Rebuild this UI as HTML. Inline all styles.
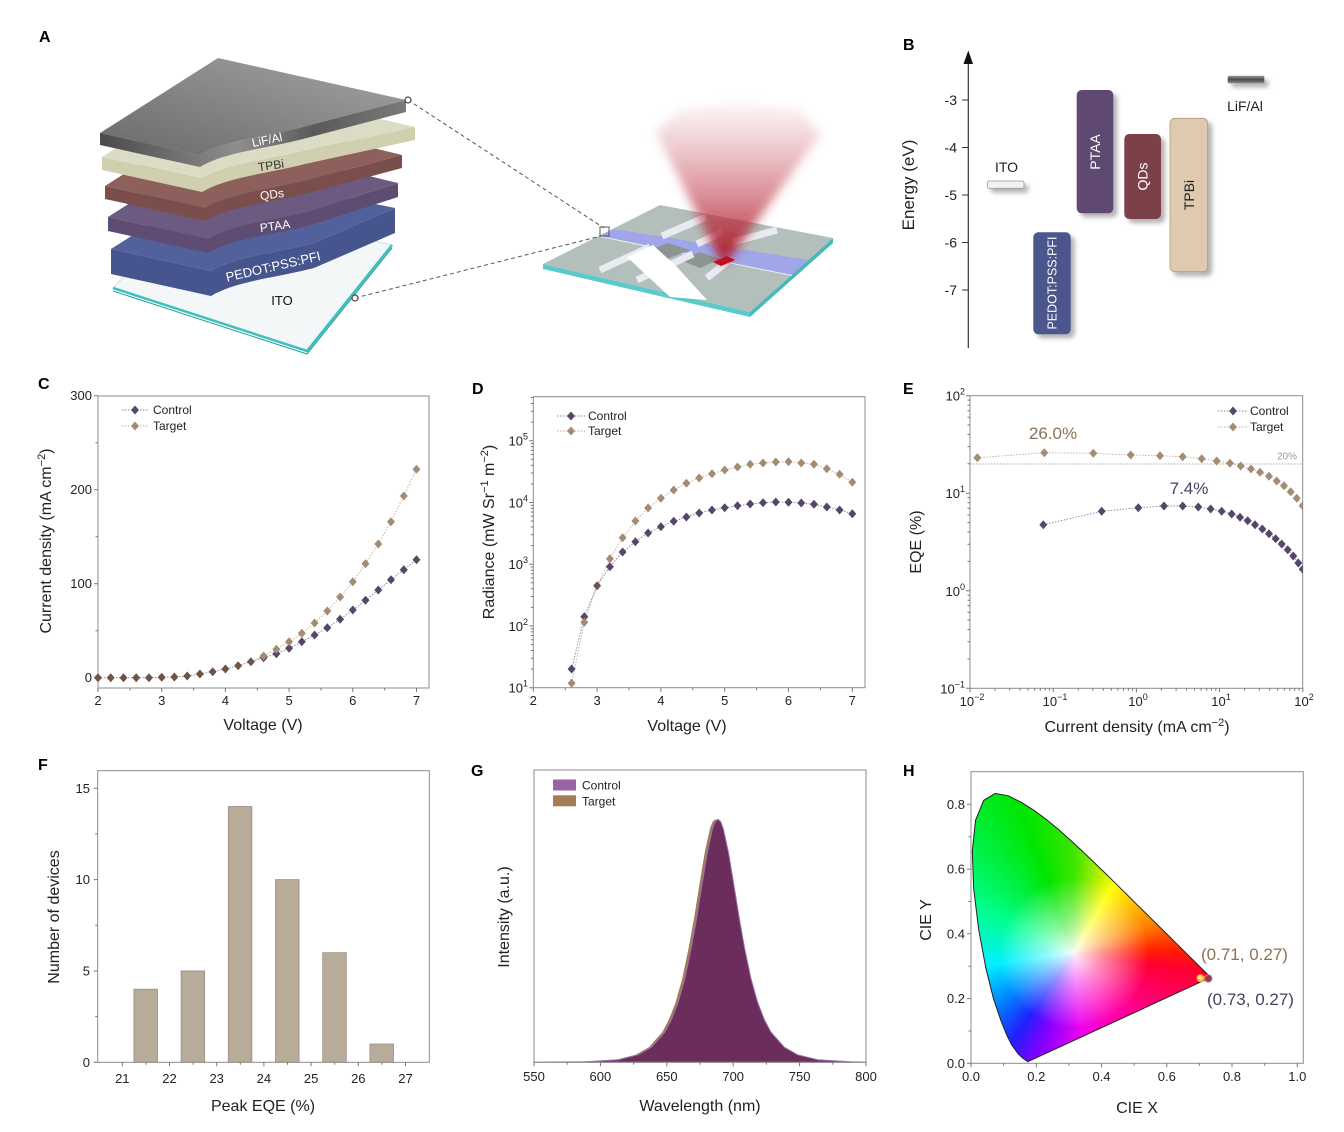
<!DOCTYPE html>
<html>
<head>
<meta charset="utf-8">
<style>
html,body{margin:0;padding:0;background:#fff;}
#wrap{position:relative;width:1344px;height:1132px;overflow:hidden;background:#fff;}
#cie{position:absolute;left:0;top:0;width:1344px;height:1132px;
background:
radial-gradient(circle at 1074px 953px, rgba(255,255,255,0.95) 0px, rgba(255,255,255,0.55) 28px, rgba(255,255,255,0) 75px),
conic-gradient(from 0deg at 1074px 953px, #3ce600 0deg, #c8f000 20deg, #ffff00 30deg, #ffc000 50deg, #ff8000 70deg, #ff2000 88deg, #ff0030 98deg, #ff0070 120deg, #ff00b0 150deg, #f000f0 175deg, #8000ff 200deg, #2020ff 215deg, #0080ff 235deg, #00f0ff 262deg, #00ff90 295deg, #00f040 320deg, #00e600 340deg, #3ce600 360deg);
clip-path: polygon(1027.8px 1061.7px, 1022.1px 1057.6px, 1018px 1053.7px, 1011.5px 1044.6px, 1006.8px 1035.2px, 1000.8px 1020.3px, 993.4px 998.3px, 985.8px 967.8px, 978.7px 929.7px, 973.7px 889px, 972.3px 851.3px, 975.5px 820.4px, 983.7px 800.4px, 995.2px 793.4px, 1008.3px 795.8px, 1021.5px 802.4px, 1033.9px 810.3px, 1045.9px 819.1px, 1057.7px 828.8px, 1069.4px 839.2px, 1081.1px 850px, 1092.7px 861.1px, 1104.4px 872.4px, 1115.9px 883.7px, 1127.2px 894.9px, 1138.2px 905.8px, 1148.8px 916.2px, 1158.7px 926px, 1167.7px 934.9px, 1175.6px 942.7px, 1188.2px 955.2px, 1196.6px 963.5px, 1202px 968.8px, 1205.6px 972.4px, 1210.7px 977.4px);}
svg{position:absolute;left:0;top:0;}
text{font-family:"Liberation Sans",Arial,sans-serif;fill:#222;}
.tk{font-size:13px;}
.at{font-size:16px;}
.lg{font-size:12px;}
.pl{font-size:16px;font-weight:bold;fill:#000;}
.fr{fill:none;stroke:#8c8c8c;stroke-width:1;}
.ti{fill:none;stroke:#777;stroke-width:1;}
</style>
</head>
<body>
<div id="wrap">
<div id="cie"></div>
<svg width="1344" height="1132" viewBox="0 0 1344 1132" xmlns="http://www.w3.org/2000/svg">
<defs>
<path id="dm" d="M0,-4.5 L4,0 L0,4.5 L-4,0 Z"/>
<filter id="sh" x="-40%" y="-20%" width="180%" height="150%"><feDropShadow dx="4" dy="4" stdDeviation="2.5" flood-color="#000" flood-opacity="0.3"/></filter>
<filter id="blur" x="-50%" y="-50%" width="200%" height="200%"><feGaussianBlur stdDeviation="5"/></filter>
<linearGradient id="gTop" x1="0" y1="1" x2="1" y2="0"><stop offset="0" stop-color="#6a6a6a"/><stop offset="1" stop-color="#a4a4a4"/></linearGradient>
<linearGradient id="gAlF" x1="0" y1="0" x2="1" y2="0"><stop offset="0" stop-color="#4a4a4a"/><stop offset="0.45" stop-color="#8e8e8e"/><stop offset="0.7" stop-color="#5a5a5a"/><stop offset="1" stop-color="#7a7a7a"/></linearGradient>
<linearGradient id="gLiF" x1="0" y1="0" x2="0" y2="1"><stop offset="0" stop-color="#9a9a9a"/><stop offset="0.5" stop-color="#4a4a4a"/><stop offset="1" stop-color="#8a8a8a"/></linearGradient>
<linearGradient id="cone" x1="0" y1="1" x2="0" y2="0"><stop offset="0" stop-color="#b01020" stop-opacity="0.95"/><stop offset="0.45" stop-color="#c04050" stop-opacity="0.55"/><stop offset="1" stop-color="#d06070" stop-opacity="0.05"/></linearGradient>
<radialGradient id="gDot" cx="0.45" cy="0.45" r="0.6"><stop offset="0" stop-color="#fffbd0"/><stop offset="0.5" stop-color="#ffd040"/><stop offset="1" stop-color="#ff8a00"/></radialGradient>
<clipPath id="clipE"><rect x="970" y="395.7" width="332.7" height="292.6"/></clipPath>
</defs>

<!-- ===================== PANEL A ===================== -->
<text class="pl" x="39" y="42">A</text>
<!-- ITO plate -->
<polygon points="113,288 200,200 392,245 307,351" fill="#f3f7f7" stroke="#d5dddd" stroke-width="1"/>
<polyline points="113,288 307,351 392,245" fill="none" stroke="#3fc0c0" stroke-width="2.5"/>
<polyline points="113,291 307,354 392,248" fill="none" stroke="#2a9a9a" stroke-width="1"/>
<!-- PEDOT -->
<path d="M111,249 L229,174 L395,208 L314,243 C275,253 236,256 211,271 Z" fill="#52609c"/>
<path d="M111,249 L211,271 C236,256 275,253 314,243 L395,208 L395,233 L314,268 C275,278 236,281 211,296 L111,274 Z" fill="#46558e"/>
<!-- PTAA -->
<path d="M108,217 L226,142 L398,183 L311,211 C272,221 233,224 208,239 Z" fill="#6c5a80"/>
<path d="M108,217 L208,239 C233,224 272,221 311,211 L398,183 L398,197 L311,225 C272,235 233,238 208,253 L108,231 Z" fill="#5e4c72"/>
<!-- QDs -->
<path d="M105,186 L223,111 L402,155 L308,180 C269,190 230,193 205,208 Z" fill="#8e605c"/>
<path d="M105,186 L205,208 C230,193 269,190 308,180 L402,155 L402,168 L308,193 C269,203 230,206 205,221 L105,199 Z" fill="#7a4e4c"/>
<!-- TPBi -->
<path d="M102,157 L220,82 L415,127 L305,151 C266,161 227,164 202,179 Z" fill="#dcdcc4"/>
<path d="M102,157 L202,179 C227,164 266,161 305,151 L415,127 L415,140 L305,164 C266,174 227,177 202,192 L102,170 Z" fill="#d0d0b0"/>
<!-- LiF/Al -->
<path d="M100,133 L218,58 L406,100 L303,127 C264,137 225,140 200,155 Z" fill="url(#gTop)"/>
<path d="M100,133 L200,155 C225,140 264,137 303,127 L406,100 L406,112 L303,139 C264,149 225,152 200,167 L100,145 Z" fill="url(#gAlF)"/>
<!-- labels -->
<text x="267" y="144" font-size="12" text-anchor="middle" transform="rotate(-12 267 140)" style="fill:#fff">LiF/Al</text>
<text x="271" y="169.5" font-size="12" text-anchor="middle" transform="rotate(-8 271 165.5)" style="fill:#333">TPBi</text>
<text x="272" y="198.5" font-size="12" text-anchor="middle" transform="rotate(-8 272 194.5)" style="fill:#fff">QDs</text>
<text x="275" y="230" font-size="12" text-anchor="middle" transform="rotate(-8 275 226)" style="fill:#fff">PTAA</text>
<text x="273" y="271" font-size="13" text-anchor="middle" transform="rotate(-13 273 266)" style="fill:#fff">PEDOT:PSS:PFI</text>
<text x="282" y="305" font-size="13" text-anchor="middle" style="fill:#111">ITO</text>

<!-- device -->
<polygon points="543,264 750,312 750,317 543,269" fill="#5ccaca"/>
<polygon points="750,312 833,238 833,243 750,317" fill="#48b8b8"/>
<polygon points="543,264 660,205 833,238 750,312" fill="#b3bfbb"/>
<polygon points="600,236 614,229 808,260 792,275" fill="#a0a6e8"/>
<line x1="600" y1="236.5" x2="792" y2="275.5" stroke="#e8ecf8" stroke-width="1"/>
<polygon points="645,252 668,243 690,250 667,259" fill="#8d9593"/>
<polygon points="680,260 700,252 720,259 700,268" fill="#8d9593"/>
<g stroke="#eceef6" stroke-width="7" opacity="0.95">
<line x1="662" y1="236" x2="706" y2="217"/>
<line x1="697" y1="244" x2="722" y2="232"/>
<line x1="733" y1="242" x2="777" y2="230"/>
<line x1="600" y1="270" x2="650" y2="247"/>
<line x1="637" y1="280" x2="693" y2="254"/>
<line x1="707" y1="278" x2="727" y2="262"/>
</g>
<polygon points="627,257 653,245 677,267 707,300 670,297" fill="#ffffff"/>
<polygon points="713,262 727,256 735,260 721,266" fill="#c4101c"/>
<polygon points="721,262 727,262 820,135 800,110 740,102 680,110 656,132" fill="url(#cone)" filter="url(#blur)"/>
<rect x="600" y="227" width="9" height="9" fill="none" stroke="#555" stroke-width="1"/>
<line x1="408" y1="100" x2="604" y2="228" stroke="#555" stroke-width="1" stroke-dasharray="4,3"/>
<line x1="355" y1="298" x2="601" y2="236" stroke="#555" stroke-width="1" stroke-dasharray="4,3"/>
<circle cx="408" cy="100" r="3" fill="#fff" stroke="#444" stroke-width="1.2"/>
<circle cx="355" cy="298" r="3" fill="#fff" stroke="#444" stroke-width="1.2"/>

<!-- ===================== PANEL B ===================== -->
<text class="pl" x="903" y="50">B</text>
<line x1="968.3" y1="348" x2="968.3" y2="62" stroke="#333" stroke-width="1.2"/>
<polygon points="963.5,64 973,64 968.3,50.5" fill="#111"/>
<path d="M962,100h6.3 M962,147.5h6.3 M962,195h6.3 M962,242.5h6.3 M962,290h6.3" stroke="#333" stroke-width="1"/>
<g font-size="14">
<text x="957" y="105" text-anchor="end" font-size="14">-3</text>
<text x="957" y="152.5" text-anchor="end" font-size="14">-4</text>
<text x="957" y="200" text-anchor="end" font-size="14">-5</text>
<text x="957" y="247.5" text-anchor="end" font-size="14">-6</text>
<text x="957" y="295" text-anchor="end" font-size="14">-7</text>
</g>
<text transform="translate(914,185) rotate(-90)" text-anchor="middle" font-size="17">Energy (eV)</text>
<g filter="url(#sh)">
<rect x="987.3" y="181" width="36.7" height="7.3" rx="2" fill="#f0f2f4" stroke="#999" stroke-width="0.8"/>
<rect x="1033.3" y="232.3" width="37.4" height="102" rx="5" fill="#4b578d"/>
<rect x="1076.7" y="90" width="36.6" height="123.3" rx="5" fill="#5f4a70"/>
<rect x="1124.3" y="134" width="36.7" height="85" rx="5" fill="#7b3f48"/>
<rect x="1170" y="118.3" width="37.7" height="153.4" rx="5" fill="#dfcab0" stroke="#b09880" stroke-width="0.8"/>
<rect x="1227.7" y="75.7" width="36.6" height="7.6" rx="1.5" fill="url(#gLiF)"/>
</g>
<text x="1006.5" y="172" text-anchor="middle" font-size="14">ITO</text>
<text x="1245" y="111" text-anchor="middle" font-size="14">LiF/Al</text>
<text transform="translate(1056.5,283) rotate(-90)" text-anchor="middle" font-size="12.5" style="fill:#fff">PEDOT:PSS:PFI</text>
<text transform="translate(1100,152) rotate(-90)" text-anchor="middle" font-size="14" style="fill:#fff">PTAA</text>
<text transform="translate(1147.5,176.5) rotate(-90)" text-anchor="middle" font-size="14" style="fill:#fff">QDs</text>
<text transform="translate(1194,195) rotate(-90)" text-anchor="middle" font-size="14" style="fill:#222">TPBi</text>

<!-- ===================== PANEL C ===================== -->
<text class="pl" x="38" y="389">C</text>
<rect class="fr" x="98" y="396" width="331" height="292"/>
<path class="ti" d="M98,688v4 M161.7,688v4 M225.4,688v4 M289.1,688v4 M352.8,688v4 M416.5,688v4 M129.9,688v2.5 M193.6,688v2.5 M257.3,688v2.5 M321,688v2.5 M384.7,688v2.5 M98,677.7h-4 M98,583.7h-4 M98,489.7h-4 M98,395.7h-4 M98,630.7h-2.5 M98,536.7h-2.5 M98,442.7h-2.5"/>
<g class="tk" text-anchor="middle">
<text class="tk" x="98" y="705">2</text><text class="tk" x="161.7" y="705">3</text><text class="tk" x="225.4" y="705">4</text><text class="tk" x="289.1" y="705">5</text><text class="tk" x="352.8" y="705">6</text><text class="tk" x="416.5" y="705">7</text>
</g>
<g text-anchor="end">
<text class="tk" x="92" y="682.2">0</text><text class="tk" x="92" y="588.2">100</text><text class="tk" x="92" y="494.2">200</text><text class="tk" x="92" y="400.2">300</text>
</g>
<text class="at" x="263" y="730" text-anchor="middle">Voltage (V)</text>
<text class="at" transform="translate(51,541) rotate(-90)" text-anchor="middle">Current density (mA cm<tspan dy="-6" font-size="11">−2</tspan><tspan dy="6">)</tspan></text>
<polyline fill="none" stroke="#8a7c9c" stroke-width="0.9" stroke-dasharray="1.5,1.5" points="98,677.7 110.7,677.7 123.5,677.7 136.2,677.7 149,677.7 161.7,677.2 174.4,677 187.2,676 199.9,674 212.7,671.7 225.4,669 238.1,665.7 250.9,661.7 263.6,657.7 276.4,653.7 289.1,648.3 301.8,641.7 314.6,635 327.3,627.7 340.1,619.3 352.8,610 365.5,600.3 378.3,590 391,579.7 403.8,569.7 416.5,559.7"/>
<polyline fill="none" stroke="#c4ad96" stroke-width="0.9" stroke-dasharray="1.5,1.5" points="250.9,661.7 263.6,656 276.4,649.3 289.1,641.7 301.8,633.3 314.6,623 327.3,611 340.1,597 352.8,581.7 365.5,563.7 378.3,544 391,521.7 403.8,496 416.5,469.3"/>
<g fill="#56476a">
<use href="#dm" x="263.6" y="657.7"/><use href="#dm" x="276.4" y="653.7"/><use href="#dm" x="289.1" y="648.3"/><use href="#dm" x="301.8" y="641.7"/><use href="#dm" x="314.6" y="635"/><use href="#dm" x="327.3" y="627.7"/><use href="#dm" x="340.1" y="619.3"/><use href="#dm" x="352.8" y="610"/><use href="#dm" x="365.5" y="600.3"/><use href="#dm" x="378.3" y="590"/><use href="#dm" x="391" y="579.7"/><use href="#dm" x="403.8" y="569.7"/><use href="#dm" x="416.5" y="559.7"/>
</g>
<g fill="#a48c72">
<use href="#dm" x="263.6" y="656"/><use href="#dm" x="276.4" y="649.3"/><use href="#dm" x="289.1" y="641.7"/><use href="#dm" x="301.8" y="633.3"/><use href="#dm" x="314.6" y="623"/><use href="#dm" x="327.3" y="611"/><use href="#dm" x="340.1" y="597"/><use href="#dm" x="352.8" y="581.7"/><use href="#dm" x="365.5" y="563.7"/><use href="#dm" x="378.3" y="544"/><use href="#dm" x="391" y="521.7"/><use href="#dm" x="403.8" y="496"/><use href="#dm" x="416.5" y="469.3"/>
</g>
<g fill="#6e5347">
<use href="#dm" x="98" y="677.7"/><use href="#dm" x="110.7" y="677.7"/><use href="#dm" x="123.5" y="677.7"/><use href="#dm" x="136.2" y="677.7"/><use href="#dm" x="149" y="677.7"/><use href="#dm" x="161.7" y="677.2"/><use href="#dm" x="174.4" y="677"/><use href="#dm" x="187.2" y="676"/><use href="#dm" x="199.9" y="674"/><use href="#dm" x="212.7" y="671.7"/><use href="#dm" x="225.4" y="669"/><use href="#dm" x="238.1" y="665.7"/><use href="#dm" x="250.9" y="661.7"/>
</g>
<line x1="122" y1="410" x2="148" y2="410" stroke="#8a7c9c" stroke-width="0.9" stroke-dasharray="1.5,1.5"/>
<use href="#dm" x="135" y="410" fill="#56476a"/>
<text class="lg" x="153" y="414">Control</text>
<line x1="122" y1="426" x2="148" y2="426" stroke="#c4ad96" stroke-width="0.9" stroke-dasharray="1.5,1.5"/>
<use href="#dm" x="135" y="426" fill="#a48c72"/>
<text class="lg" x="153" y="430">Target</text>

<!-- ===================== PANEL D ===================== -->
<text class="pl" x="472" y="394">D</text>
<rect class="fr" x="533.3" y="396.7" width="331.7" height="291"/>
<path class="ti" d="M533.3,687.7v4 M597.1,687.7v4 M660.9,687.7v4 M724.7,687.7v4 M788.5,687.7v4 M852.3,687.7v4 M565.2,687.7v2.5 M629,687.7v2.5 M692.8,687.7v2.5 M756.6,687.7v2.5 M820.4,687.7v2.5 M533.3,687.7h-4 M533.3,625.95h-4 M533.3,564.2h-4 M533.3,502.45h-4 M533.3,440.7h-4 M533.3,669.1h-2.5 M533.3,658.2h-2.5 M533.3,650.5h-2.5 M533.3,644.5h-2.5 M533.3,639.7h-2.5 M533.3,635.5h-2.5 M533.3,631.9h-2.5 M533.3,628.8h-2.5 M533.3,607.35h-2.5 M533.3,596.45h-2.5 M533.3,588.75h-2.5 M533.3,582.75h-2.5 M533.3,577.95h-2.5 M533.3,573.75h-2.5 M533.3,570.15h-2.5 M533.3,567.05h-2.5 M533.3,545.6h-2.5 M533.3,534.7h-2.5 M533.3,527h-2.5 M533.3,521h-2.5 M533.3,516.2h-2.5 M533.3,512h-2.5 M533.3,508.4h-2.5 M533.3,505.3h-2.5 M533.3,483.85h-2.5 M533.3,472.95h-2.5 M533.3,465.25h-2.5 M533.3,459.25h-2.5 M533.3,454.45h-2.5 M533.3,450.25h-2.5 M533.3,446.65h-2.5 M533.3,443.55h-2.5 M533.3,422.1h-2.5 M533.3,411.2h-2.5 M533.3,403.5h-2.5 M533.3,397.5h-2.5"/>
<g text-anchor="middle">
<text class="tk" x="533.3" y="705">2</text><text class="tk" x="597.1" y="705">3</text><text class="tk" x="660.9" y="705">4</text><text class="tk" x="724.7" y="705">5</text><text class="tk" x="788.5" y="705">6</text><text class="tk" x="852.3" y="705">7</text>
</g>
<g text-anchor="end">
<text class="tk" x="528" y="692.7">10<tspan dy="-6" font-size="9">1</tspan></text>
<text class="tk" x="528" y="630.9">10<tspan dy="-6" font-size="9">2</tspan></text>
<text class="tk" x="528" y="569.2">10<tspan dy="-6" font-size="9">3</tspan></text>
<text class="tk" x="528" y="507.4">10<tspan dy="-6" font-size="9">4</tspan></text>
<text class="tk" x="528" y="445.7">10<tspan dy="-6" font-size="9">5</tspan></text>
</g>
<text class="at" x="687" y="731" text-anchor="middle">Voltage (V)</text>
<text class="at" transform="translate(494,532) rotate(-90)" text-anchor="middle">Radiance (mW Sr<tspan dy="-6" font-size="11">−1</tspan><tspan dy="6"> m</tspan><tspan dy="-6" font-size="11">−2</tspan><tspan dy="6">)</tspan></text>
<polyline fill="none" stroke="#8a7c9c" stroke-width="0.9" stroke-dasharray="1.5,1.5" points="571.6,669 584.3,616.7 597.1,585.7 609.9,566.7 622.6,552 635.4,541.7 648.1,533 660.9,526.7 673.7,521.3 686.4,517 699.2,513 712,510 724.7,507.7 737.5,505.7 750.2,504 763,502.7 775.8,502 788.5,502.3 801.3,503 814,504.3 826.8,507 839.6,510 852.3,513.7"/>
<polyline fill="none" stroke="#c4ad96" stroke-width="0.9" stroke-dasharray="1.5,1.5" points="571.6,683.3 584.3,622.3 597.1,585.7 609.9,558.7 622.6,537.7 635.4,521 648.1,508 660.9,498.3 673.7,490 686.4,483.3 699.2,478 712,473.7 724.7,470 737.5,467 750.2,464.3 763,463 775.8,462 788.5,461.7 801.3,463 814,464.3 826.8,468.7 839.6,474.3 852.3,482.3"/>
<g fill="#56476a">
<use href="#dm" x="571.6" y="669"/><use href="#dm" x="584.3" y="616.7"/><use href="#dm" x="609.9" y="566.7"/><use href="#dm" x="622.6" y="552"/><use href="#dm" x="635.4" y="541.7"/><use href="#dm" x="648.1" y="533"/><use href="#dm" x="660.9" y="526.7"/><use href="#dm" x="673.7" y="521.3"/><use href="#dm" x="686.4" y="517"/><use href="#dm" x="699.2" y="513"/><use href="#dm" x="712" y="510"/><use href="#dm" x="724.7" y="507.7"/><use href="#dm" x="737.5" y="505.7"/><use href="#dm" x="750.2" y="504"/><use href="#dm" x="763" y="502.7"/><use href="#dm" x="775.8" y="502"/><use href="#dm" x="788.5" y="502.3"/><use href="#dm" x="801.3" y="503"/><use href="#dm" x="814" y="504.3"/><use href="#dm" x="826.8" y="507"/><use href="#dm" x="839.6" y="510"/><use href="#dm" x="852.3" y="513.7"/>
</g>
<g fill="#a48c72">
<use href="#dm" x="571.6" y="683.3"/><use href="#dm" x="584.3" y="622.3"/><use href="#dm" x="609.9" y="558.7"/><use href="#dm" x="622.6" y="537.7"/><use href="#dm" x="635.4" y="521"/><use href="#dm" x="648.1" y="508"/><use href="#dm" x="660.9" y="498.3"/><use href="#dm" x="673.7" y="490"/><use href="#dm" x="686.4" y="483.3"/><use href="#dm" x="699.2" y="478"/><use href="#dm" x="712" y="473.7"/><use href="#dm" x="724.7" y="470"/><use href="#dm" x="737.5" y="467"/><use href="#dm" x="750.2" y="464.3"/><use href="#dm" x="763" y="463"/><use href="#dm" x="775.8" y="462"/><use href="#dm" x="788.5" y="461.7"/><use href="#dm" x="801.3" y="463"/><use href="#dm" x="814" y="464.3"/><use href="#dm" x="826.8" y="468.7"/><use href="#dm" x="839.6" y="474.3"/><use href="#dm" x="852.3" y="482.3"/>
</g>
<use href="#dm" x="597.1" y="585.7" fill="#6e5347"/>
<line x1="557" y1="416" x2="585" y2="416" stroke="#8a7c9c" stroke-width="0.9" stroke-dasharray="1.5,1.5"/>
<use href="#dm" x="571" y="416" fill="#56476a"/>
<text class="lg" x="588" y="420">Control</text>
<line x1="557" y1="431" x2="585" y2="431" stroke="#c4ad96" stroke-width="0.9" stroke-dasharray="1.5,1.5"/>
<use href="#dm" x="571" y="431" fill="#a48c72"/>
<text class="lg" x="588" y="435">Target</text>

<!-- ===================== PANEL E ===================== -->
<text class="pl" x="903" y="394">E</text>
<rect class="fr" x="970" y="395.7" width="332.7" height="292.6"/>
<path class="ti" d="M970,688.3v4 M1053.2,688.3v4 M1136.4,688.3v4 M1219.6,688.3v4 M1302.8,688.3v4 M995,688.3v2.5 M1009.7,688.3v2.5 M1020.1,688.3v2.5 M1028.1,688.3v2.5 M1034.7,688.3v2.5 M1040.3,688.3v2.5 M1045.1,688.3v2.5 M1049.4,688.3v2.5 M1078.2,688.3v2.5 M1092.9,688.3v2.5 M1103.3,688.3v2.5 M1111.3,688.3v2.5 M1117.9,688.3v2.5 M1123.5,688.3v2.5 M1128.3,688.3v2.5 M1132.6,688.3v2.5 M1161.4,688.3v2.5 M1176.1,688.3v2.5 M1186.5,688.3v2.5 M1194.5,688.3v2.5 M1201.1,688.3v2.5 M1206.7,688.3v2.5 M1211.5,688.3v2.5 M1215.8,688.3v2.5 M1244.6,688.3v2.5 M1259.3,688.3v2.5 M1269.7,688.3v2.5 M1277.7,688.3v2.5 M1284.3,688.3v2.5 M1289.9,688.3v2.5 M1294.7,688.3v2.5 M1299,688.3v2.5 M970,395.7h-4 M970,493.2h-4 M970,590.8h-4 M970,688.3h-4 M970,658.9h-2.5 M970,641.7h-2.5 M970,629.5h-2.5 M970,620.1h-2.5 M970,612.4h-2.5 M970,605.8h-2.5 M970,600.2h-2.5 M970,595.2h-2.5 M970,561.4h-2.5 M970,544.2h-2.5 M970,532h-2.5 M970,522.6h-2.5 M970,514.9h-2.5 M970,508.3h-2.5 M970,502.7h-2.5 M970,497.7h-2.5 M970,463.8h-2.5 M970,446.6h-2.5 M970,434.4h-2.5 M970,425h-2.5 M970,417.3h-2.5 M970,410.7h-2.5 M970,405.1h-2.5 M970,400.1h-2.5"/>
<g text-anchor="middle">
<text class="tk" x="972" y="706">10<tspan dy="-6" font-size="9">−2</tspan></text>
<text class="tk" x="1055" y="706">10<tspan dy="-6" font-size="9">−1</tspan></text>
<text class="tk" x="1138" y="706">10<tspan dy="-6" font-size="9">0</tspan></text>
<text class="tk" x="1221" y="706">10<tspan dy="-6" font-size="9">1</tspan></text>
<text class="tk" x="1304" y="706">10<tspan dy="-6" font-size="9">2</tspan></text>
</g>
<g text-anchor="end">
<text class="tk" x="965" y="400.7">10<tspan dy="-6" font-size="9">2</tspan></text>
<text class="tk" x="965" y="498.2">10<tspan dy="-6" font-size="9">1</tspan></text>
<text class="tk" x="965" y="595.8">10<tspan dy="-6" font-size="9">0</tspan></text>
<text class="tk" x="965" y="693.3">10<tspan dy="-6" font-size="9">−1</tspan></text>
</g>
<text class="at" x="1137" y="732" text-anchor="middle">Current density (mA cm<tspan dy="-6" font-size="11">−2</tspan><tspan dy="6">)</tspan></text>
<text class="at" transform="translate(921,542) rotate(-90)" text-anchor="middle">EQE (%)</text>
<line x1="970" y1="464" x2="1302.7" y2="464" stroke="#aaa" stroke-width="0.9" stroke-dasharray="1.5,1.5"/>
<text x="1287" y="459.5" text-anchor="middle" font-size="10" style="fill:#999">20%</text>
<text x="1053" y="439" text-anchor="middle" font-size="17" style="fill:#8b7355">26.0%</text>
<text x="1189" y="494" text-anchor="middle" font-size="17" style="fill:#4a3f5c">7.4%</text>
<g clip-path="url(#clipE)">
<polyline fill="none" stroke="#c4ad96" stroke-width="0.9" stroke-dasharray="1.5,1.5" points="977.3,457.7 1044.3,452.7 1093.3,453.3 1130.7,455 1160,455.7 1182.7,456.7 1201.7,458.7 1216.7,461 1230,463.3 1240.7,466 1251,469 1260,472.3 1269,476.3 1276.7,481 1284,485.7 1290.7,491.7 1296.7,498.3 1302.7,505.7"/>
<polyline fill="none" stroke="#8a7c9c" stroke-width="0.9" stroke-dasharray="1.5,1.5" points="1043.3,524.7 1101.7,511.3 1138.3,507.7 1164,506 1182.7,506 1198.3,507 1210.7,509 1221.7,511.3 1231.7,514 1240,517.3 1247.7,520.7 1255,524.7 1262.3,529 1269,533.7 1275.7,538.7 1281.7,544 1287.7,549.7 1293.3,556 1298.3,563 1302.7,569.3"/>
<g fill="#a48c72">
<use href="#dm" x="977.3" y="457.7"/><use href="#dm" x="1044.3" y="452.7"/><use href="#dm" x="1093.3" y="453.3"/><use href="#dm" x="1130.7" y="455"/><use href="#dm" x="1160" y="455.7"/><use href="#dm" x="1182.7" y="456.7"/><use href="#dm" x="1201.7" y="458.7"/><use href="#dm" x="1216.7" y="461"/><use href="#dm" x="1230" y="463.3"/><use href="#dm" x="1240.7" y="466"/><use href="#dm" x="1251" y="469"/><use href="#dm" x="1260" y="472.3"/><use href="#dm" x="1269" y="476.3"/><use href="#dm" x="1276.7" y="481"/><use href="#dm" x="1284" y="485.7"/><use href="#dm" x="1290.7" y="491.7"/><use href="#dm" x="1296.7" y="498.3"/><use href="#dm" x="1302.7" y="505.7"/>
</g>
<g fill="#56476a">
<use href="#dm" x="1043.3" y="524.7"/><use href="#dm" x="1101.7" y="511.3"/><use href="#dm" x="1138.3" y="507.7"/><use href="#dm" x="1164" y="506"/><use href="#dm" x="1182.7" y="506"/><use href="#dm" x="1198.3" y="507"/><use href="#dm" x="1210.7" y="509"/><use href="#dm" x="1221.7" y="511.3"/><use href="#dm" x="1231.7" y="514"/><use href="#dm" x="1240" y="517.3"/><use href="#dm" x="1247.7" y="520.7"/><use href="#dm" x="1255" y="524.7"/><use href="#dm" x="1262.3" y="529"/><use href="#dm" x="1269" y="533.7"/><use href="#dm" x="1275.7" y="538.7"/><use href="#dm" x="1281.7" y="544"/><use href="#dm" x="1287.7" y="549.7"/><use href="#dm" x="1293.3" y="556"/><use href="#dm" x="1298.3" y="563"/><use href="#dm" x="1302.7" y="569.3"/>
</g>
</g>
<line x1="1218" y1="411" x2="1247" y2="411" stroke="#8a7c9c" stroke-width="0.9" stroke-dasharray="1.5,1.5"/>
<use href="#dm" x="1233" y="411" fill="#56476a"/>
<text class="lg" x="1250" y="415">Control</text>
<line x1="1218" y1="427" x2="1247" y2="427" stroke="#c4ad96" stroke-width="0.9" stroke-dasharray="1.5,1.5"/>
<use href="#dm" x="1233" y="427" fill="#a48c72"/>
<text class="lg" x="1250" y="431">Target</text>

<!-- ===================== PANEL F ===================== -->
<text class="pl" x="38" y="770">F</text>
<g fill="#b9ab9a" stroke="#9a8f84" stroke-width="0.8">
<rect x="133.9" y="989.2" width="23.6" height="73.1"/>
<rect x="181.1" y="970.9" width="23.6" height="91.4"/>
<rect x="228.3" y="806.5" width="23.6" height="255.8"/>
<rect x="275.5" y="879.6" width="23.6" height="182.7"/>
<rect x="322.7" y="952.7" width="23.6" height="109.6"/>
<rect x="369.9" y="1044" width="23.6" height="18.3"/>
</g>
<rect class="fr" x="97.7" y="770.7" width="331.6" height="291.6"/>
<path class="ti" d="M122.3,1062.3v4 M169.5,1062.3v4 M216.7,1062.3v4 M263.9,1062.3v4 M311.1,1062.3v4 M358.3,1062.3v4 M405.5,1062.3v4 M145.9,1062.3v2.5 M193.1,1062.3v2.5 M240.3,1062.3v2.5 M287.5,1062.3v2.5 M334.7,1062.3v2.5 M381.9,1062.3v2.5 M97.7,1062.3h-4 M97.7,970.95h-4 M97.7,879.6h-4 M97.7,788.25h-4 M97.7,1016.6h-2.5 M97.7,925.3h-2.5 M97.7,833.9h-2.5"/>
<g text-anchor="middle">
<text class="tk" x="122.3" y="1083">21</text><text class="tk" x="169.5" y="1083">22</text><text class="tk" x="216.7" y="1083">23</text><text class="tk" x="263.9" y="1083">24</text><text class="tk" x="311.1" y="1083">25</text><text class="tk" x="358.3" y="1083">26</text><text class="tk" x="405.5" y="1083">27</text>
</g>
<g text-anchor="end">
<text class="tk" x="90" y="1066.8">0</text><text class="tk" x="90" y="975.5">5</text><text class="tk" x="90" y="884.1">10</text><text class="tk" x="90" y="792.8">15</text>
</g>
<text class="at" x="263" y="1111" text-anchor="middle">Peak EQE (%)</text>
<text class="at" transform="translate(59,917) rotate(-90)" text-anchor="middle">Number of devices</text>

<!-- ===================== PANEL G ===================== -->
<text class="pl" x="471" y="776">G</text>
<polygon fill="#a17c52" points="534,1062.3 582.5,1061.8 615.7,1059.7 635.6,1054.8 648.9,1047.2 662.2,1032.2 668.8,1019.8 675.5,1002.6 682.1,979.1 688.7,947.8 694.1,917.9 699.4,884.6 704.7,852.6 710,828.4 712.7,821.6 715.3,819.3 717.9,821.6 720.6,828.4 725.9,852.6 731.2,884.6 736.6,917.9 741.9,947.8 748.5,979.1 755.1,1002.6 761.8,1019.8 768.4,1032.2 781.7,1047.2 795,1054.8 814.9,1059.7 848.1,1061.8 866,1062.3"/>
<polygon fill="#6b2d5b" stroke="#9a70b0" stroke-width="1" points="534,1062.3 585.1,1061.8 618.3,1059.7 638.2,1054.8 651.5,1047.2 664.8,1032.2 671.4,1019.8 678.1,1002.6 684.7,979.1 691.3,947.8 696.7,917.9 702,884.6 707.3,852.6 712.6,828.4 715.2,821.6 717.9,819.3 720.6,821.6 723.2,828.4 728.5,852.6 733.8,884.6 739.2,917.9 744.5,947.8 751.1,979.1 757.7,1002.6 764.4,1019.8 771,1032.2 784.3,1047.2 797.6,1054.8 817.5,1059.7 850.7,1061.8 866,1062.3"/>
<rect class="fr" x="534" y="770" width="332" height="292.3"/>
<path class="ti" d="M534,1062.3v4 M600.4,1062.3v4 M666.8,1062.3v4 M733.2,1062.3v4 M799.6,1062.3v4 M866,1062.3v4 M567.2,1062.3v2.5 M633.6,1062.3v2.5 M700,1062.3v2.5 M766.4,1062.3v2.5 M832.8,1062.3v2.5"/>
<g text-anchor="middle">
<text class="tk" x="534" y="1081">550</text><text class="tk" x="600.4" y="1081">600</text><text class="tk" x="666.8" y="1081">650</text><text class="tk" x="733.2" y="1081">700</text><text class="tk" x="799.6" y="1081">750</text><text class="tk" x="866" y="1081">800</text>
</g>
<text class="at" x="700" y="1111" text-anchor="middle">Wavelength (nm)</text>
<text class="at" transform="translate(509,917) rotate(-90)" text-anchor="middle">Intensity (a.u.)</text>
<rect x="553" y="779.5" width="23" height="11" fill="#9b63a3"/>
<text class="lg" x="582" y="789.5">Control</text>
<rect x="553" y="795.3" width="23" height="11" fill="#a47c55"/>
<text class="lg" x="582" y="805.3">Target</text>

<!-- ===================== PANEL H ===================== -->
<text class="pl" x="903" y="776">H</text>
<polygon fill="none" stroke="#222" stroke-width="1" points="1027.8,1061.7 1022.1,1057.6 1018,1053.7 1011.5,1044.6 1006.8,1035.2 1000.8,1020.3 993.4,998.3 985.8,967.8 978.7,929.7 973.7,889 972.3,851.3 975.5,820.4 983.7,800.4 995.2,793.4 1008.3,795.8 1021.5,802.4 1033.9,810.3 1045.9,819.1 1057.7,828.8 1069.4,839.2 1081.1,850 1092.7,861.1 1104.4,872.4 1115.9,883.7 1127.2,894.9 1138.2,905.8 1148.8,916.2 1158.7,926 1167.7,934.9 1175.6,942.7 1188.2,955.2 1196.6,963.5 1202,968.8 1205.6,972.4 1210.7,977.4"/>
<rect class="fr" x="971" y="771.7" width="332.3" height="291.6"/>
<path class="ti" d="M971,1063.3v4 M1036.3,1063.3v4 M1101.5,1063.3v4 M1166.8,1063.3v4 M1232,1063.3v4 M1297.3,1063.3v4 M1003.6,1063.3v2.5 M1068.9,1063.3v2.5 M1134.1,1063.3v2.5 M1199.4,1063.3v2.5 M1264.7,1063.3v2.5 M971,1063.3h-4 M971,998.6h-4 M971,933.8h-4 M971,869.1h-4 M971,804.3h-4 M971,1031h-2.5 M971,966.2h-2.5 M971,901.5h-2.5 M971,836.7h-2.5"/>
<g text-anchor="middle">
<text class="tk" x="971" y="1081">0.0</text><text class="tk" x="1036.3" y="1081">0.2</text><text class="tk" x="1101.5" y="1081">0.4</text><text class="tk" x="1166.8" y="1081">0.6</text><text class="tk" x="1232" y="1081">0.8</text><text class="tk" x="1297.3" y="1081">1.0</text>
</g>
<g text-anchor="end">
<text class="tk" x="965" y="1067.8">0.0</text><text class="tk" x="965" y="1003.1">0.2</text><text class="tk" x="965" y="938.3">0.4</text><text class="tk" x="965" y="873.6">0.6</text><text class="tk" x="965" y="808.8">0.8</text>
</g>
<text class="at" x="1137" y="1113" text-anchor="middle">CIE X</text>
<text class="at" transform="translate(931,920) rotate(-90)" text-anchor="middle">CIE Y</text>
<circle cx="1208.3" cy="978.5" r="3.8" fill="#9a3a4c" stroke="#d88a98" stroke-width="0.8"/>
<circle cx="1200.5" cy="978.3" r="4" fill="url(#gDot)"/>
<text x="1201" y="960" font-size="17" style="fill:#8b7355">(0.71, 0.27)</text>
<text x="1207" y="1005" font-size="17" style="fill:#4a4060">(0.73, 0.27)</text>
</svg>
</div>
</body>
</html>
